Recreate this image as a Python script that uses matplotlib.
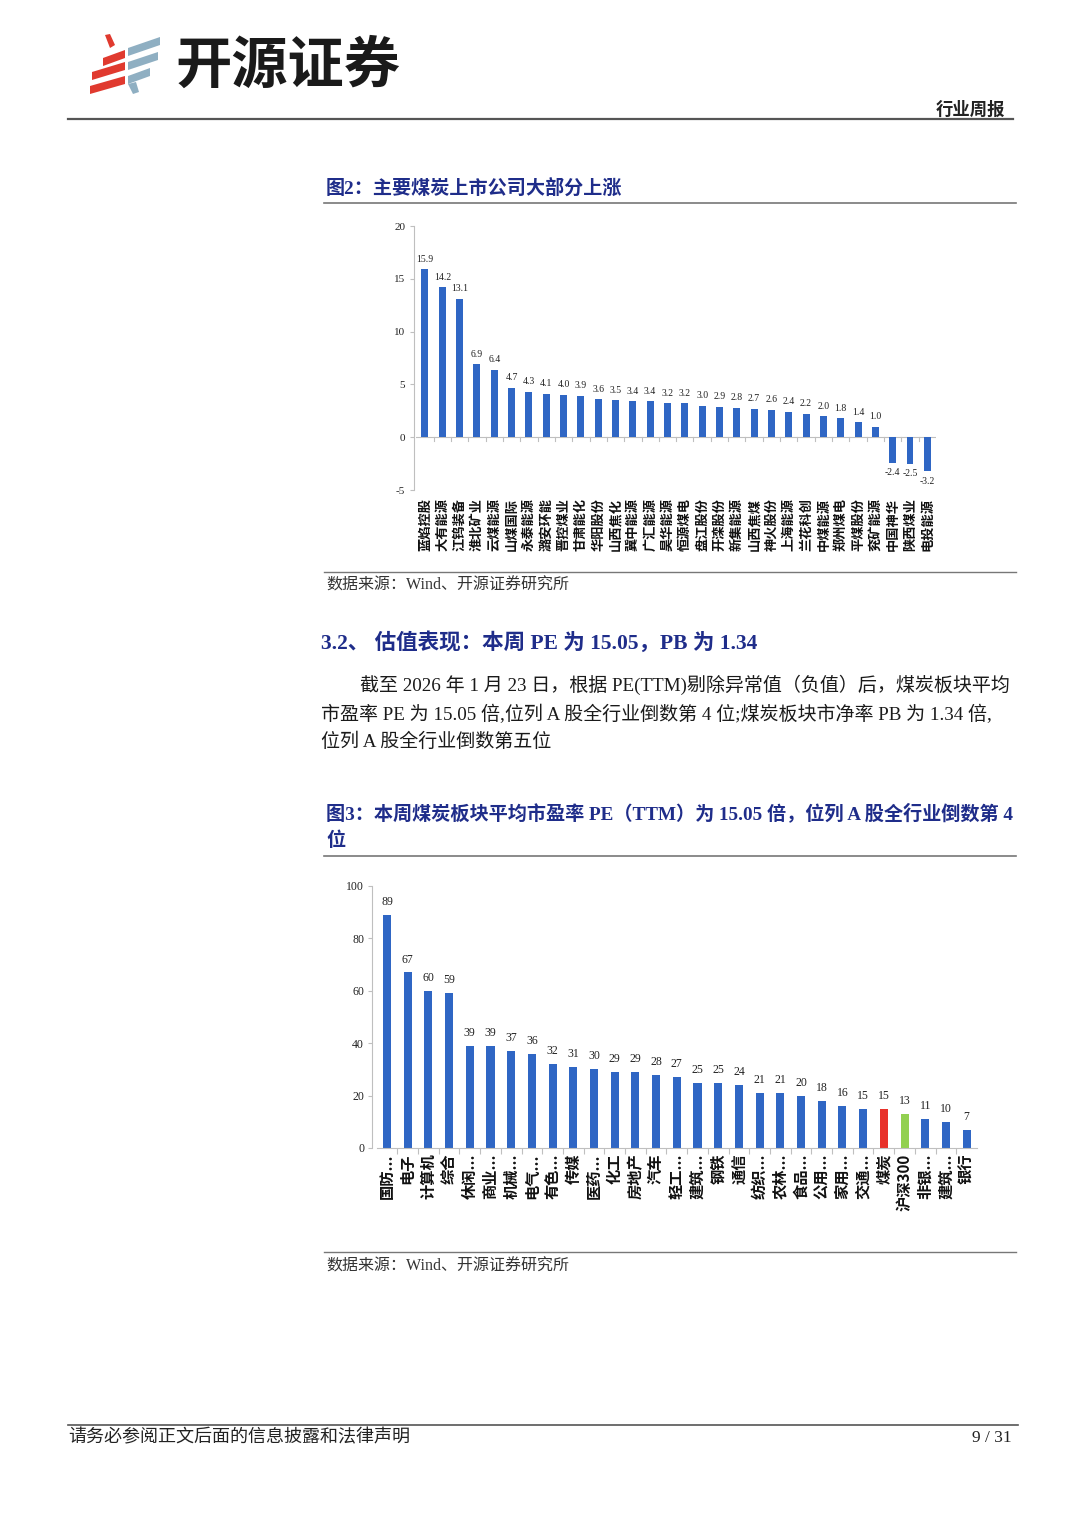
import matplotlib
matplotlib.use("Agg")
import matplotlib.pyplot as plt
from matplotlib.patches import Polygon

plt.rcParams['font.family'] = ['Liberation Serif', 'Noto Sans CJK SC']

# ---------------- data ----------------
coal_companies = ['蓝焰控股', '大有能源', '江钨装备', '淮北矿业', '云煤能源', '山煤国际', '永泰能源',
                  '潞安环能', '晋控煤业', '甘肃能化', '华阳股份', '山西焦化', '冀中能源', '广汇能源',
                  '昊华能源', '恒源煤电', '盘江股份', '开滦股份', '新集能源', '山西焦煤', '神火股份',
                  '上海能源', '兰花科创', '中煤能源', '郑州煤电', '平煤股份', '兖矿能源', '中国神华',
                  '陕西煤业', '电投能源']
coal_changes = [15.9, 14.2, 13.1, 6.9, 6.4, 4.7, 4.3, 4.1, 4.0, 3.9, 3.6, 3.5, 3.4, 3.4, 3.2,
                3.2, 3.0, 2.9, 2.8, 2.7, 2.6, 2.4, 2.2, 2.0, 1.8, 1.4, 1.0, -2.4, -2.5, -3.2]
chart1_yticks = [-5, 0, 5, 10, 15, 20]

industries = ['国防...', '电子', '计算机', '综合', '休闲...', '商业...', '机械...', '电气...', '有色...',
              '传媒', '医药...', '化工', '房地产', '汽车', '轻工...', '建筑...', '钢铁', '通信',
              '纺织...', '农林...', '食品...', '公用...', '家用...', '交通...', '煤炭', '沪深300',
              '非银...', '建筑...', '银行']
industry_pe = [89, 67, 60, 59, 39, 39, 37, 36, 32, 31, 30, 29, 29, 28, 27, 25, 25, 24, 21, 21,
               20, 18, 16, 15, 15, 13, 11, 10, 7]
highlight = {'煤炭': '#E8312A', '沪深300': '#92D050'}
chart2_yticks = [0, 20, 40, 60, 80, 100]

# ---------------- styles ----------------
W, H = 1080, 1527
BLUE = '#2F66C4'
NAVY = '#1F2D8A'
GRAY = '#BFBFBF'
CJK = ['Noto Sans CJK SC']
MIX = ['Liberation Serif', 'Noto Sans CJK SC']

fig = plt.figure(figsize=(W / 100, H / 100), dpi=100)

bg = fig.add_axes([0, 0, 1, 1])
bg.set_xlim(0, W)
bg.set_ylim(H, 0)
bg.axis('off')
bg.set_zorder(0)


def px_axes(x0, y0, x1, y1):
    ax = fig.add_axes([x0 / W, 1 - y1 / H, (x1 - x0) / W, (y1 - y0) / H])
    ax.set_zorder(1)
    ax.patch.set_alpha(0)
    return ax


# ---------------- header ----------------
red = '#E03A2F'
bluegray = '#8FAFC2'
for pts, c in [
    ([(105, 35), (110, 34), (115, 45), (110, 48)], red),
    ([(103, 58), (125, 50), (125, 58), (103, 66)], red),
    ([(92, 72), (125, 62), (125, 70), (92, 80)], red),
    ([(90, 86), (125, 76), (125, 84), (90, 94)], red),
    ([(128, 48), (160, 37), (160, 45), (128, 56)], bluegray),
    ([(128, 62), (158, 52), (158, 60), (128, 70)], bluegray),
    ([(128, 76), (150, 68), (150, 76), (128, 84)], bluegray),
    ([(128, 84), (136, 82), (139, 92), (133, 94)], bluegray),
]:
    bg.add_patch(Polygon(pts, closed=True, color=c, lw=0))

bg.text(176, 66, '开源证券', fontsize=40.5, fontweight='bold', family=CJK, color='#1A1A1A', va='center')
bg.text(1005, 110, '行业周报', fontsize=12.5, fontweight='bold', family=CJK, color='#222222',
        va='center', ha='right')
bg.plot([68, 1013], [119, 119], color='#555555', lw=1.6)

# ---------------- figure 2 ----------------
bg.text(326, 188, '图2：主要煤炭上市公司大部分上涨', fontsize=13.75, fontweight='bold', family=MIX,
        color=NAVY, va='center')
bg.plot([324, 1016], [203, 203], color='#777777', lw=1.2)

ax1 = px_axes(416.3, 226, 936, 490)
x1 = list(range(len(coal_companies)))
bars1 = ax1.bar(x1, coal_changes, width=0.4, color=BLUE, zorder=2)
ax1.set_xlim(-0.5, len(coal_companies) - 0.5)
ax1.set_ylim(-5, 20)
for s in ['top', 'right', 'bottom']:
    ax1.spines[s].set_visible(False)
ax1.spines['left'].set_color(GRAY)
ax1.spines['left'].set_linewidth(0.8)
ax1.spines['left'].set_position(('outward', 2))
ax1.axhline(0, color=GRAY, lw=0.8, zorder=1)
for k in range(1, len(coal_companies)):
    ax1.plot([k - 0.5, k - 0.5], [0, -0.35], color=GRAY, lw=0.8, zorder=1)
ax1.set_yticks(chart1_yticks)
ax1.set_yticklabels([str(v) for v in chart1_yticks], family=MIX, fontsize=8, color='#222222')
ax1.tick_params(axis='y', length=3, color=GRAY, width=0.8, pad=3)
ax1.set_xticks(x1)
ax1.set_xticklabels(coal_companies, rotation=90, family=CJK, fontsize=9.5, fontweight='bold',
                    color='#111111')
ax1.tick_params(axis='x', length=0, pad=6)
ax1.bar_label(bars1, labels=[f'{v:.1f}' for v in coal_changes], padding=4, fontsize=7,
              family=MIX, color='#222222')

bg.plot([324, 1016], [572, 572], color='#777777', lw=1.0)
bg.text(326, 586, '数据来源：Wind、开源证券研究所', fontsize=11.5, family=MIX, color='#333333', va='center')

# ---------------- section text ----------------
bg.text(321, 643, '3.2、 估值表现：本周 PE 为 15.05，PB 为 1.34', fontsize=15.5, fontweight='bold',
        family=MIX, color=NAVY, va='center')
para = [
    (360, 685, '截至 2026 年 1 月 23 日，根据 PE(TTM)剔除异常值（负值）后，煤炭板块平均'),
    (321, 714, '市盈率 PE 为 15.05 倍,位列 A 股全行业倒数第 4 位;煤炭板块市净率 PB 为 1.34 倍,'),
    (321, 742, '位列 A 股全行业倒数第五位'),
]
for px, py, t in para:
    bg.text(px, py, t, fontsize=13.7, family=MIX, color='#1A1A1A', va='center')

# ---------------- figure 3 ----------------
bg.text(326, 813, '图3：本周煤炭板块平均市盈率 PE（TTM）为 15.05 倍，位列 A 股全行业倒数第 4',
        fontsize=13.8, fontweight='bold', family=MIX, color=NAVY, va='center')
bg.text(326, 841, '位', fontsize=13.8, fontweight='bold', family=MIX, color=NAVY, va='center')
bg.plot([324, 1016], [856, 856], color='#777777', lw=1.2)

ax2 = px_axes(376.6, 886, 977, 1148)
x2 = list(range(len(industries)))
colors2 = [highlight.get(n, BLUE) for n in industries]
bars2 = ax2.bar(x2, industry_pe, width=0.39, color=colors2, zorder=2)
ax2.set_xlim(-0.5, len(industries) - 0.5)
ax2.set_ylim(0, 100)
for s in ['top', 'right']:
    ax2.spines[s].set_visible(False)
for s in ['left', 'bottom']:
    ax2.spines[s].set_color(GRAY)
    ax2.spines[s].set_linewidth(0.8)
ax2.spines['left'].set_position(('outward', 3))
ax2.set_yticks(chart2_yticks)
ax2.set_yticklabels([str(v) for v in chart2_yticks], family=MIX, fontsize=8.5, color='#222222')
ax2.tick_params(axis='y', length=3, color=GRAY, width=0.8, pad=3)
ax2.set_xticks(x2)
ax2.set_xticklabels(industries, rotation=90, family=CJK, fontsize=11, fontweight='bold',
                    color='#111111')
ax2.set_xticks([k - 0.5 for k in range(1, len(industries))], minor=True)
ax2.tick_params(axis='x', which='major', length=0, pad=4)
ax2.tick_params(axis='x', which='minor', length=4, color=GRAY, width=0.8)
ax2.bar_label(bars2, labels=[str(v) for v in industry_pe], padding=5, fontsize=8.5,
              family=MIX, color='#222222')

bg.plot([324, 1016], [1252, 1252], color='#777777', lw=1.0)
bg.text(326, 1267, '数据来源：Wind、开源证券研究所', fontsize=11.5, family=MIX, color='#333333', va='center')

# ---------------- footer ----------------
bg.plot([68, 1018], [1425, 1425], color='#555555', lw=1.2)
bg.text(68, 1438, '请务必参阅正文后面的信息披露和法律声明', fontsize=13, family=MIX, color='#222222',
        va='center')
bg.text(1012, 1438, '9 / 31', fontsize=12.5, family=MIX, color='#222222', va='center', ha='right')

fig.savefig('out.png', dpi=100)
